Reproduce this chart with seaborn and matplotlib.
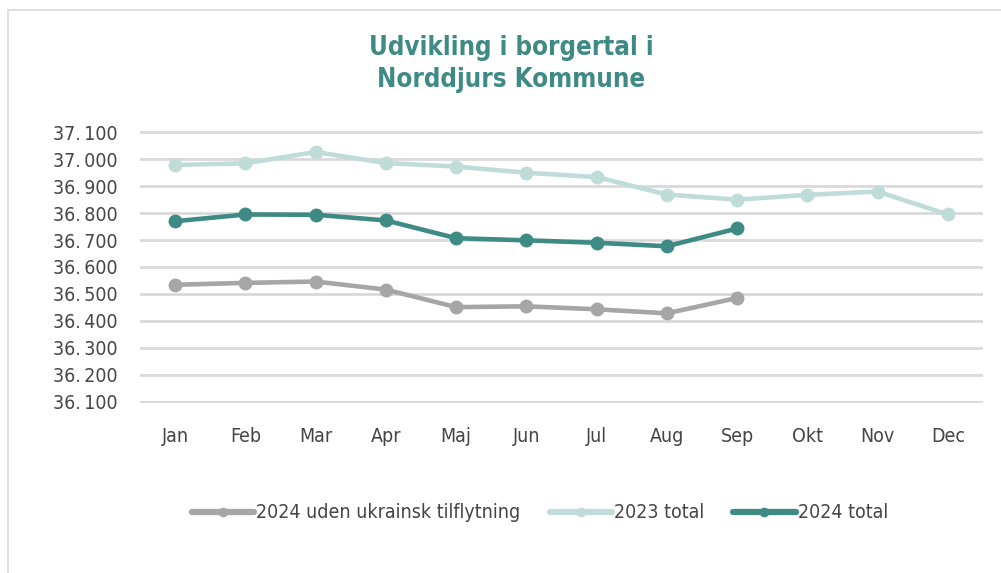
import numpy as np
import pandas as pd
import matplotlib
matplotlib.use("Agg")
import matplotlib.pyplot as plt
from matplotlib.patches import Rectangle
from matplotlib.ticker import FuncFormatter
import seaborn as sns

months = ["Jan", "Feb", "Mar", "Apr", "Maj", "Jun", "Jul", "Aug", "Sep", "Okt", "Nov", "Dec"]
uden_2024 = [36534, 36541, 36546, 36516, 36451, 36454, 36443, 36428, 36485]
total_2023 = [36979, 36985, 37027, 36986, 36973, 36950, 36934, 36869, 36850, 36868, 36880, 36795]
total_2024 = [36770, 36795, 36794, 36773, 36707, 36699, 36690, 36677, 36743]
yticks = [36100, 36200, 36300, 36400, 36500, 36600, 36700, 36800, 36900, 37000, 37100]

series = [
    ("2024 uden ukrainsk tilflytning", uden_2024, "#A6A6A6"),
    ("2023 total", total_2023, "#BFDCD9"),
    ("2024 total", total_2024, "#3E8A85"),
]

sns.set_theme(style="white")
plt.rcParams['font.family'] = ['DejaVu Sans']
plt.rcParams['font.stretch'] = 'condensed'

fig = plt.figure(figsize=(10.01, 5.73), dpi=100)
ax = fig.add_axes([140 / 1001, 1 - 403 / 573, (983 - 140) / 1001, (403 - 131) / 573])

# outer chart frame
fig.patches.append(Rectangle((8 / 1001, -0.05), 1.1, 1 - 10 / 573 + 0.05, transform=fig.transFigure,
                             fill=False, edgecolor="#D9D9D9", linewidth=1.2))

for name, vals, col in series:
    x = np.arange(len(vals))
    sns.lineplot(x=x, y=vals, ax=ax, color=col, linewidth=3.3, marker="o", markersize=10,
                 markeredgewidth=0, label=name, zorder=3)

ax.set_xlim(-0.5, 11.5)
ax.set_ylim(36095, 37105)
ax.set_yticks(yticks)
ax.yaxis.set_major_formatter(FuncFormatter(lambda v, p: f"{v/1000:.3f}".replace(".", ".\u2009")))
ax.set_xticks(range(len(months)))
ax.set_xticklabels(months)
ax.grid(axis="y", color="#D9D9D9", linewidth=2)
ax.set_axisbelow(True)
for s in ax.spines.values():
    s.set_visible(False)
ax.tick_params(axis="both", length=0, labelsize=14, colors="#454545")
ax.tick_params(axis="x", pad=17)
ax.tick_params(axis="y", pad=16)
ax.set_xlabel("")
ax.set_ylabel("")

fig.text(511 / 1001, 1 - 64 / 573, "Udvikling i borgertal i\nNorddjurs Kommune", ha="center", va="center",
         fontsize=18.5, fontweight="bold", color="#3E8A85", linespacing=1.3)

ax.legend_.remove()
handles, labels = ax.get_legend_handles_labels()
leg = fig.legend(handles, labels, loc="center", bbox_to_anchor=(540 / 1001, 1 - 513 / 573), ncol=3,
                 frameon=False, fontsize=14, handlelength=3.2, handletextpad=0.1, columnspacing=1.5,
                 labelcolor="#454545")
for ln in leg.get_lines():
    ln.set_linewidth(4.5)
    ln.set_markersize(7)

fig.savefig("out.png", dpi=100, facecolor="white")
